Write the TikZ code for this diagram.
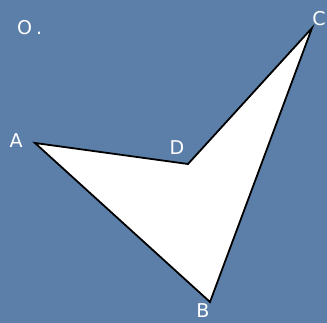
\documentclass[tikz,border=0pt]{standalone}
\usepackage{fontspec}
\setmainfont{DejaVu Sans}
\definecolor{bg}{RGB}{91,127,168}
\begin{document}
\begin{tikzpicture}[x=1pt,y=-1pt,
  lbl/.style={text=white,font=\fontsize{19}{19}\selectfont,inner sep=0pt}]
\fill[bg] (0,0) rectangle (327,323);
\useasboundingbox (0,0) rectangle (327,323);
\coordinate (A) at (35,143);
\coordinate (B) at (210,302);
\coordinate (C) at (312,28);
\coordinate (D) at (188,164);
\filldraw[fill=white,draw=black,line width=1.8pt,line join=miter] (A) -- (D) -- (C) -- (B) -- cycle;
\node[lbl] (lA) at (16,141) {A};
\node[lbl] (lB) at (203,311) {B};
\node[lbl] (lC) at (319,19) {C};
\node[lbl] (lD) at (177,148) {D};
\node[lbl,anchor=west] (lO) at (17,28) {O\hspace{4pt}.};
\end{tikzpicture}
\end{document}
